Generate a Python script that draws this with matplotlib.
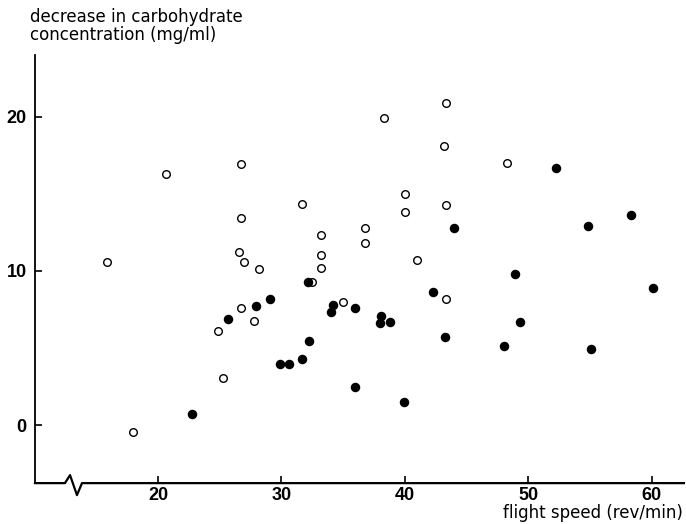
import matplotlib.pyplot as plt
from matplotlib.lines import Line2D

# open circles
open_x = [15.9, 20.65, 18.0, 25.3, 24.9, 26.7, 27.8, 28.2, 26.6, 27.0, 26.7, 26.7,
          31.7, 38.3, 43.3, 43.2, 40.0, 40.0, 43.3, 36.8, 36.8, 33.2, 33.2, 33.2,
          32.5, 35.0, 41.0, 48.3, 43.3]
open_y = [10.6, 16.3, -0.45, 3.05, 6.1, 7.6, 6.75, 10.1, 11.2, 10.6, 16.9, 13.4,
          14.35, 19.9, 20.9, 18.1, 15.0, 13.8, 14.3, 12.8, 11.8, 12.3, 11.0, 10.2,
          9.3, 8.0, 10.7, 17.0, 8.2]

# filled circles
filled_x = [22.75, 25.7, 27.9, 29.1, 29.9, 30.6, 31.65, 32.2, 32.15, 34.2, 34.0,
            35.95, 35.95, 38.1, 38.0, 38.8, 39.9, 42.3, 43.25, 44.0, 52.2, 54.8,
            58.3, 48.9, 60.1, 49.3, 48.0, 55.1]
filled_y = [0.7, 6.9, 7.7, 8.2, 3.95, 3.96, 4.3, 5.45, 9.3, 7.8, 7.35,
            7.6, 2.45, 7.1, 6.6, 6.7, 1.5, 8.65, 5.7, 12.8, 16.7, 12.9,
            13.6, 9.8, 8.9, 6.7, 5.1, 4.9]

x_ticks = [20, 30, 40, 50, 60]
y_ticks = [0, 10, 20]

plt.rcParams['font.family'] = ['Liberation Sans', 'DejaVu Sans']

fig = plt.figure(figsize=(6.86, 5.24), dpi=100)
ax = fig.add_axes([0.051, 0.078, 0.946, 0.817])

ax.scatter(open_x, open_y, s=30, facecolors='white', edgecolors='black',
           linewidths=1.0, zorder=3)
ax.scatter(filled_x, filled_y, s=34, color='black', zorder=4)

ax.set_xlim(10.04, 62.6)
ax.set_ylim(-3.77, 24.0)

ax.set_xticks(x_ticks)
ax.set_yticks(y_ticks)
ax.tick_params(direction='in', length=5, width=1.2, labelsize=13, pad=2.5)
ax.tick_params(axis='y', pad=6)
for lab in ax.get_xticklabels() + ax.get_yticklabels():
    lab.set_fontweight('bold')

for s in ['top', 'right', 'bottom']:
    ax.spines[s].set_visible(False)
ax.spines['left'].set_linewidth(1.3)

# x axis with break marker
xs = [0, 0.0462, 0.054, 0.0647, 0.0724, 1.0]
ys = [0, 0, 0.0187, -0.028, 0, 0]
ax.add_line(Line2D(xs, ys, transform=ax.transAxes, color='black', lw=1.6,
                   clip_on=False))

fig.text(0.044, 0.985, "decrease in carbohydrate\nconcentration (mg/ml)",
         ha='left', va='top', fontsize=12, linespacing=1.0,
         family='DejaVu Sans')
fig.text(0.996, 0.004, "flight speed (rev/min)", ha='right', va='bottom',
         fontsize=12, family='DejaVu Sans')

fig.savefig("out.png", dpi=100)
